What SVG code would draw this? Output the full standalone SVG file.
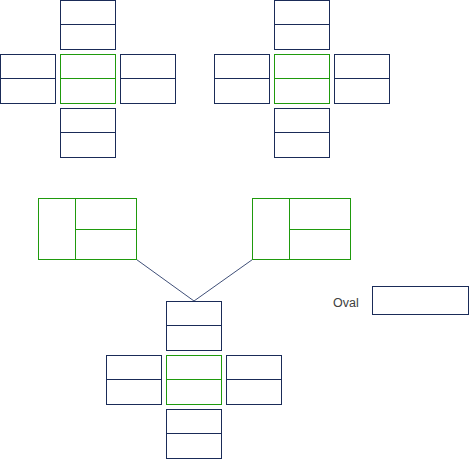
<svg xmlns="http://www.w3.org/2000/svg" width="470" height="459" viewBox="0 0 470 459">
<style>
.n{fill:#fff;stroke:#1a2b58;stroke-width:1}
.g{fill:#fff;stroke:#1f9a0d;stroke-width:1}
.dn{stroke:#1a2b58;stroke-width:1}
.dg{stroke:#1f9a0d;stroke-width:1}
.c{stroke:#3f4f78;stroke-width:1;fill:none}
.t{font-family:"Liberation Sans",Arial,sans-serif;font-size:12.5px;fill:#404040}
</style>
<defs>
<g id="bn"><rect class="n" x="0" y="0" width="55" height="49"/><line class="dn" x1="0" y1="24" x2="55" y2="24"/></g>
<g id="bg"><rect class="g" x="0" y="0" width="55" height="49"/><line class="dg" x1="0" y1="24" x2="55" y2="24"/></g>
<g id="cross">
<use href="#bn" x="60.5" y="0.5"/>
<use href="#bn" x="0.5" y="54.5"/>
<use href="#bg" x="60.5" y="54.5"/>
<use href="#bn" x="120.5" y="54.5"/>
<use href="#bn" x="60.5" y="108.5"/>
</g>
<g id="gb"><rect class="g" x="0" y="0" width="98" height="61"/><line class="dg" x1="37" y1="0" x2="37" y2="61"/><line class="dg" x1="37" y1="31" x2="98" y2="31"/></g>
</defs>
<g id="cluster-top-left"><use href="#cross" x="0" y="0"/></g>
<g id="cluster-top-right"><use href="#cross" x="214" y="0"/></g>
<g id="connectors">
<line class="c" x1="136.5" y1="259.5" x2="194" y2="301"/>
<line class="c" x1="252.5" y1="259.5" x2="194" y2="301"/>
</g>
<g id="green-left"><use href="#gb" x="38.5" y="198.5"/></g>
<g id="green-right"><use href="#gb" x="252.5" y="198.5"/></g>
<g id="cluster-bottom"><use href="#cross" x="106" y="301"/></g>
<g id="oval">
<text class="t" x="333" y="306.5">Oval</text>
<rect class="n" x="372.5" y="286.5" width="96" height="28"/>
</g>
</svg>
